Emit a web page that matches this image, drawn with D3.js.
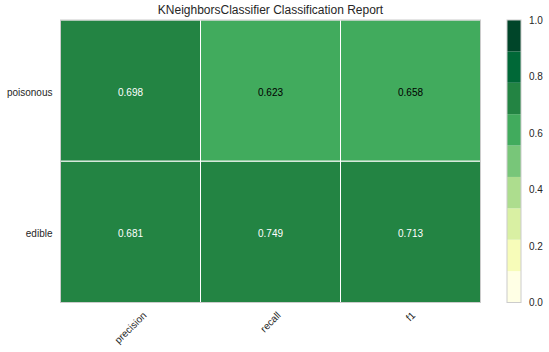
<!DOCTYPE html>
<html>
<head>
<meta charset="utf-8">
<script src="https://cdn.jsdelivr.net/npm/d3@7"></script>
<style>
  body { margin: 0; background: #fff; }
  text { font-family: "Liberation Sans", Arial, sans-serif; fill: #262626; }
</style>
</head>
<body>
<div id="chart"></div>
<script>
// Classification report heatmap

var classes = ["poisonous", "edible"];
var metrics = ["precision", "recall", "f1"];
var precision = [0.698, 0.681];
var recall = [0.623, 0.749];
var f1 = [0.658, 0.713];
var barTicks = [0.0, 0.2, 0.4, 0.6, 0.8, 1.0];

var width = 549, height = 352;
var margin = {top: 20, left: 60.5, right: 68.5, bottom: 49.5};
var plotWidth = width - margin.left - margin.right;
var plotHeight = height - margin.top - margin.bottom;

var cells = [];
classes.forEach(function(c, i) {
  cells.push({cls: c, metric: "precision", value: precision[i]});
  cells.push({cls: c, metric: "recall", value: recall[i]});
  cells.push({cls: c, metric: "f1", value: f1[i]});
});

var svg = d3.select("#chart").append("svg")
  .attr("width", width)
  .attr("height", height);

var plot = svg.append("g")
  .attr("transform", "translate(" + margin.left + "," + margin.top + ")");

// scales
var xScale = d3.scaleBand().domain(metrics).range([0, plotWidth]);
var yScale = d3.scaleBand().domain(classes).range([0, plotHeight]);
var colorScale = d3.scaleQuantize().domain([0, 1]).range(d3.schemeYlGn[9]);

// cells
plot.selectAll(".cell")
  .data(cells).enter()
  .append("rect")
  .attr("class", "cell")
  .attr("x", function(d) { return xScale(d.metric); })
  .attr("y", function(d) { return yScale(d.cls); })
  .attr("width", xScale.bandwidth())
  .attr("height", yScale.bandwidth())
  .attr("fill", function(d) { return colorScale(d.value); })
  .attr("stroke", "#fff")
  .attr("stroke-width", 1);

plot.selectAll(".val")
  .data(cells).enter()
  .append("text")
  .attr("x", function(d) { return xScale(d.metric) + xScale.bandwidth() / 2; })
  .attr("y", function(d) { return yScale(d.cls) + yScale.bandwidth() / 2 + 2; })
  .attr("dy", "0.35em")
  .attr("text-anchor", "middle")
  .style("font-size", "10px")
  .style("fill", function(d) { return d.value >= 2 / 3 ? "#fff" : "#000"; })
  .text(function(d) { return d.value.toFixed(3); });

// frame
plot.append("rect")
  .attr("width", plotWidth)
  .attr("height", plotHeight)
  .attr("fill", "none")
  .attr("stroke", "#cccccc")
  .attr("stroke-width", 1);

// axes
var yAxis = plot.append("g").call(d3.axisLeft(yScale).tickSize(0).tickPadding(8));
yAxis.select(".domain").remove();
yAxis.selectAll("text").style("font-size", "10px").attr("dy", "0.55em");

var xAxis = plot.append("g")
  .attr("transform", "translate(0," + plotHeight + ")")
  .call(d3.axisBottom(xScale).tickSize(0).tickPadding(0));
xAxis.select(".domain").remove();
xAxis.selectAll("text")
  .style("font-size", "10px")
  .attr("text-anchor", "middle")
  .attr("dy", "0.35em")
  .attr("transform", function() {
    var w = this.getComputedTextLength();
    var off = w * Math.SQRT1_2 / 2 + 11;
    return "translate(0," + off + ") rotate(-45)";
  })
  .attr("y", 0);

// title
svg.append("text")
  .attr("x", margin.left + plotWidth / 2)
  .attr("y", 14)
  .attr("text-anchor", "middle")
  .style("font-size", "12px")
  .text("KNeighborsClassifier Classification Report");

// colorbar
var barX = 507, barW = 14;
var barScale = d3.scaleLinear().domain([0, 1]).range([margin.top + plotHeight, margin.top]);
var bins = colorScale.range().map(function(c) { return colorScale.invertExtent(c); });
var bar = svg.append("g");
bar.selectAll("rect")
  .data(bins).enter()
  .append("rect")
  .attr("x", barX)
  .attr("width", barW)
  .attr("y", function(d) { return barScale(d[1]); })
  .attr("height", function(d) { return barScale(d[0]) - barScale(d[1]); })
  .attr("fill", function(d) { return colorScale((d[0] + d[1]) / 2); });
bar.append("rect")
  .attr("x", barX)
  .attr("y", barScale(1))
  .attr("width", barW)
  .attr("height", barScale(0) - barScale(1))
  .attr("fill", "none")
  .attr("stroke", "#cccccc");

var barAxis = svg.append("g")
  .attr("transform", "translate(" + (barX + barW) + ",0)")
  .call(d3.axisRight(barScale).tickValues(barTicks).tickFormat(d3.format(".1f")).tickSize(0).tickPadding(8));
barAxis.select(".domain").remove();
barAxis.selectAll("text").style("font-size", "10px");
</script>
</body>
</html>
